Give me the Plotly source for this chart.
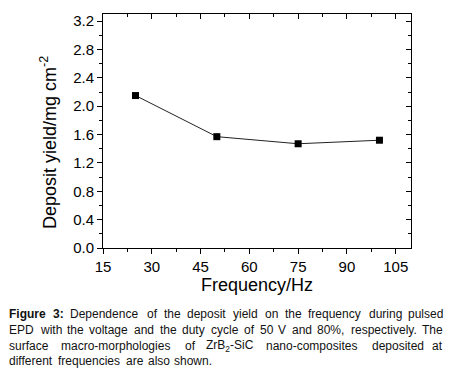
import plotly.graph_objects as go

frequency = [25, 50, 75, 100]
deposit_yield = [2.15, 1.57, 1.47, 1.52]
x_ticks = [15, 30, 45, 60, 75, 90, 105]
y_ticks = [0.0, 0.4, 0.8, 1.2, 1.6, 2.0, 2.4, 2.8, 3.2]
y_tick_labels = ["0.0", "0.4", "0.8", "1.2", "1.6", "2.0", "2.4", "2.8", "3.2"]
x_title = "Frequency/Hz"
y_title = "Deposit yield/mg cm<sup>-2</sup>"
caption_lines = [
    "<b>Figure</b> <b>3:</b> Dependence of the deposit yield on the frequency during pulsed",
    "EPD with the voltage and the duty cycle of 50 V and 80%, respectively. The",
    "surface macro-morphologies of ZrB<sub>2</sub>-SiC nano-composites deposited at",
    "different frequencies are also shown.",
]
caption_justify = [True, True, True, False]

W, H = 459, 375
L, R, T, B = 103, 48, 14, 127
pw, ph = W - L - R, H - T - B

def px_x(px):
    return (px - L) / pw

def px_y(py):
    return (H - B - py) / ph

FONT = "Liberation Sans, Arial, sans-serif"

AW = {' ': 278, 'a': 556, 'b': 556, 'c': 500, 'd': 556, 'e': 556, 'f': 278, 'g': 556,
      'h': 556, 'i': 222, 'j': 222, 'k': 500, 'l': 222, 'm': 833, 'n': 556, 'o': 556,
      'p': 556, 'q': 556, 'r': 333, 's': 500, 't': 278, 'u': 556, 'v': 500, 'w': 722,
      'x': 500, 'y': 500, 'z': 500, 'A': 667, 'B': 667, 'C': 722, 'D': 722, 'E': 667,
      'F': 611, 'G': 778, 'H': 722, 'I': 278, 'P': 667, 'R': 722, 'S': 667, 'T': 611,
      'V': 667, 'Z': 611, '.': 278, ',': 278, ':': 278, '-': 333, '%': 889}
for d in "0123456789":
    AW[d] = 556

def word_width(word, size):
    import re
    w = 0.0
    bold = "<b>" in word
    subs = re.findall(r"<sub>(.*?)</sub>", word)
    plain = re.sub(r"<sub>.*?</sub>", "", word)
    plain = re.sub(r"<[^>]+>", "", plain)
    for ch in plain:
        w += AW.get(ch, 556) * (1.08 if bold else 1.0)
    for s in subs:
        for ch in s:
            w += AW.get(ch, 556) * 0.7
    return w / 1000 * size * 1.045

fig = go.Figure()
fig.add_trace(go.Scatter(
    x=frequency, y=deposit_yield, mode="lines+markers",
    line=dict(color="#222222", width=1),
    marker=dict(symbol="square", size=7, color="black"),
    showlegend=False,
))
fig.add_trace(go.Scatter(x=[], y=[], xaxis="x2", yaxis="y2", showlegend=False))

xr = [15, 109.7]
yr = [0, 3.3]
common = dict(showgrid=False, zeroline=False, linecolor="black", linewidth=1,
              ticks="outside", ticklen=5, tickwidth=1, tickcolor="black", automargin=False)

fig.update_layout(
    width=W, height=H,
    margin=dict(l=L, r=R, t=T, b=B),
    paper_bgcolor="white", plot_bgcolor="white",
    font=dict(family=FONT, color="black"),
    xaxis=dict(range=xr, tickvals=x_ticks, ticktext=[str(v) for v in x_ticks],
               tickfont=dict(size=15), showline=True,
               minor=dict(ticks="outside", ticklen=3, tickcolor="black", dtick=7.5, tick0=15),
               title=dict(text=x_title, font=dict(size=18), standoff=0),
               **common),
    yaxis=dict(range=yr, tickvals=y_ticks, ticktext=y_tick_labels,
               tickfont=dict(size=15), showline=True,
               minor=dict(ticks="outside", ticklen=3, tickcolor="black", dtick=0.2, tick0=0),
               **common),
    xaxis2=dict(range=xr, overlaying="x", side="top", anchor="y", tickvals=x_ticks,
                showticklabels=False, showgrid=False, zeroline=False, showline=True,
                linecolor="black", ticks="inside", ticklen=5, tickcolor="black",
                minor=dict(ticks="inside", ticklen=3, tickcolor="black", dtick=7.5, tick0=15)),
    yaxis2=dict(range=yr, overlaying="y", side="right", anchor="x", tickvals=y_ticks,
                showticklabels=False, showgrid=False, zeroline=False, showline=True,
                linecolor="black", ticks="inside", ticklen=5, tickcolor="black",
                minor=dict(ticks="inside", ticklen=3, tickcolor="black", dtick=0.2, tick0=0)),
)

# y axis title (placed slightly below the axis centre, as in the reference)
fig.add_annotation(text=y_title, xref="paper", yref="paper", x=px_x(48), y=px_y(143),
                   xanchor="center", yanchor="middle", textangle=-90, showarrow=False,
                   font=dict(size=18, family=FONT, color="black"))

CAP_SIZE = 12
x_left, x_right = 7, 445
line_y = [314, 330, 345.5, 361]
for txt, yy, just in zip(caption_lines, line_y, caption_justify):
    words = txt.split(" ")
    widths = [word_width(w, CAP_SIZE) for w in words]
    if just and len(words) > 1:
        gap = (x_right - x_left - sum(widths)) / (len(words) - 1)
    else:
        gap = AW[' '] / 1000 * CAP_SIZE * 1.045
    cx = x_left
    for i, (w, ww) in enumerate(zip(words, widths)):
        last = just and i == len(words) - 1
        fig.add_annotation(text=w, xref="paper", yref="paper",
                           x=px_x(x_right if last else cx), y=px_y(yy),
                           xanchor="right" if last else "left", yanchor="middle",
                           showarrow=False,
                           font=dict(size=CAP_SIZE, family=FONT, color="#111111"))
        cx += ww + gap

fig.write_html("out.html", config={"displayModeBar": False},
               post_script="document.body.style.margin='0';")
